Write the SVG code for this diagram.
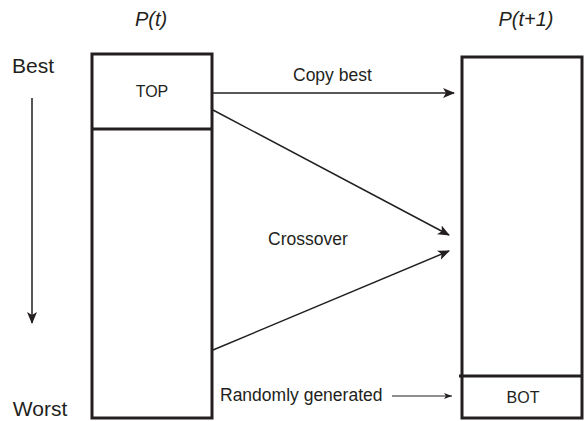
<svg xmlns="http://www.w3.org/2000/svg" width="584" height="421" viewBox="0 0 584 421">
<defs>
<marker id="ah" markerWidth="12" markerHeight="10" refX="11" refY="5" orient="auto" markerUnits="userSpaceOnUse">
<path d="M0,0 L12,5 L0,10 L3,5 z" fill="#231f20"/>
</marker>
<marker id="ahs" markerWidth="8" markerHeight="6" refX="8" refY="3" orient="auto" markerUnits="userSpaceOnUse">
<path d="M0,0 L8,3 L0,6 L2,3 z" fill="#231f20"/>
</marker>
<style>
text{font-family:"Liberation Sans",Arial,sans-serif;fill:#231f20}
.box{fill:#fff;stroke:#231f20;stroke-width:3}
.ln{stroke:#231f20;stroke-width:1.5;fill:none}
.lbl{font-size:17.5px}
.cap{font-size:16px}
.big{font-size:21px}
.ttl{font-size:20px;font-style:italic}
</style>
</defs>
<text class="ttl" x="151" y="26" text-anchor="middle">P(t)</text>
<text class="ttl" x="526" y="26" text-anchor="middle">P(t+1)</text>
<text class="big" x="33" y="73" text-anchor="middle">Best</text>
<text class="big" x="40" y="416" text-anchor="middle">Worst</text>
<g id="axis">
<line class="ln" x1="32" y1="98" x2="32" y2="323" marker-end="url(#ah)"/>
</g>
<g id="pt">
<rect class="box" x="92" y="54" width="120" height="364"/>
<line x1="92" y1="129" x2="212" y2="129" stroke="#231f20" stroke-width="3"/>
<text class="cap" x="152" y="97" text-anchor="middle">TOP</text>
</g>
<g id="pt1">
<rect class="box" x="462" y="57" width="120" height="361"/>
<line x1="459" y1="376" x2="582" y2="376" stroke="#231f20" stroke-width="3"/>
<text class="cap" x="523" y="403" text-anchor="middle">BOT</text>
</g>
<g id="connectors">
<line class="ln" x1="213" y1="93" x2="454" y2="93" marker-end="url(#ah)"/>
<line class="ln" x1="213" y1="110" x2="449" y2="235" marker-end="url(#ah)"/>
<line class="ln" x1="213" y1="350" x2="449" y2="251" marker-end="url(#ah)"/>
<line x1="392" y1="396" x2="452" y2="396" stroke="#231f20" stroke-width="1" marker-end="url(#ahs)"/>
</g>
<text class="lbl" x="293" y="81">Copy best</text>
<text class="lbl" x="268" y="245">Crossover</text>
<text class="lbl" x="220" y="401">Randomly generated</text>
</svg>
